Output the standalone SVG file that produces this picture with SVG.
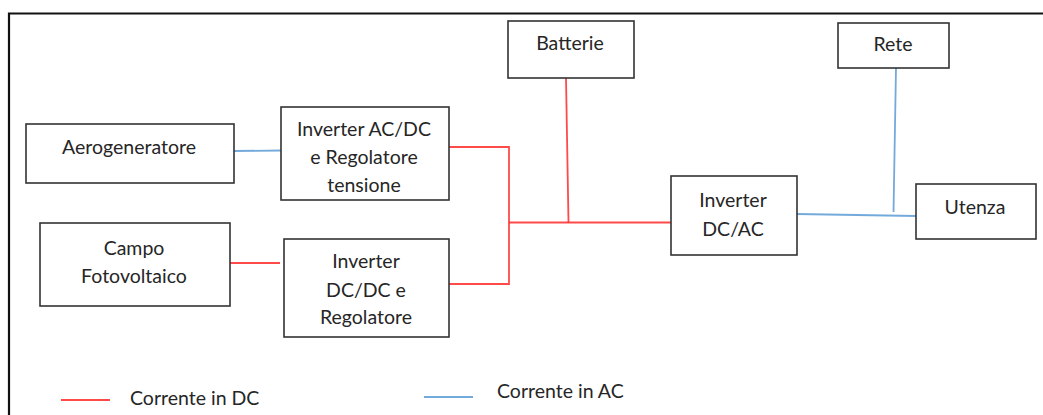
<svg xmlns="http://www.w3.org/2000/svg" width="1043" height="415" viewBox="0 0 1043 415">
<style>
.box{fill:#fff;stroke:#333;stroke-width:1.6}
.t{font-family:Lato,"Liberation Sans",sans-serif;font-size:19.5px;fill:#262626;text-anchor:middle;dominant-baseline:central}
.lg{text-anchor:start}
.dc{stroke:#ff2a2a;stroke-width:1.8;fill:none;stroke-opacity:0.85}
.ac{stroke:#5b9bd5;stroke-width:1.8;fill:none;stroke-opacity:0.85}
</style>
<rect width="1043" height="415" fill="#fff"/>
<path d="M9 415 V13.5 H1043" fill="none" stroke="#111" stroke-width="2.2"/>
<g id="connectors">
<line class="ac" x1="234" y1="151" x2="281" y2="150.5"/>
<polyline class="dc" points="449,147 509,147 509,284 449,284"/>
<line class="dc" x1="509" y1="222.5" x2="671" y2="222.5"/>
<line class="dc" x1="566" y1="78" x2="568.5" y2="222.5"/>
<line class="dc" x1="230" y1="263" x2="280" y2="263"/>
<line class="ac" x1="797" y1="214" x2="916" y2="216"/>
<line class="ac" x1="896" y1="68" x2="893.5" y2="212"/>
</g>
<g id="aerogeneratore"><rect class="box" x="26" y="124" width="208" height="59"/><text class="t" x="129" y="146">Aerogeneratore</text></g>
<g id="inverter-acdc"><rect class="box" x="281" y="107" width="168" height="93"/><text class="t" x="364" y="128">Inverter AC/DC</text><text class="t" x="364" y="156">e Regolatore</text><text class="t" x="364" y="184">tensione</text></g>
<g id="batterie"><rect class="box" x="508" y="21" width="126" height="57"/><text class="t" x="570" y="42">Batterie</text></g>
<g id="rete"><rect class="box" x="838" y="23" width="111" height="45"/><text class="t" x="893" y="43">Rete</text></g>
<g id="inverter-dcac"><rect class="box" x="671" y="176" width="126" height="79"/><text class="t" x="733" y="199">Inverter</text><text class="t" x="733" y="228">DC/AC</text></g>
<g id="utenza"><rect class="box" x="916" y="184" width="120" height="55"/><text class="t" x="975" y="206">Utenza</text></g>
<g id="campo"><rect class="box" x="40" y="223" width="190" height="83"/><text class="t" x="134" y="247">Campo</text><text class="t" x="134" y="275">Fotovoltaico</text></g>
<g id="inverter-dcdc"><rect class="box" x="284" y="239" width="165" height="98"/><text class="t" x="366" y="260">Inverter</text><text class="t" x="366" y="289">DC/DC e</text><text class="t" x="366" y="316">Regolatore</text></g>
<g id="legend">
<line class="dc" x1="61" y1="400" x2="110" y2="400"/>
<text class="t lg" x="130" y="397">Corrente in DC</text>
<line class="ac" x1="424" y1="397" x2="473" y2="397"/>
<text class="t lg" x="497" y="390">Corrente in AC</text>
</g>
</svg>
